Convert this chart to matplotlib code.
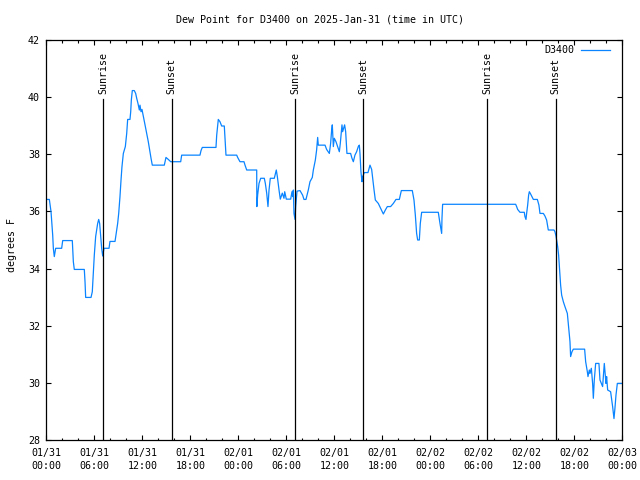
import numpy as np
import pandas as pd
import matplotlib
matplotlib.use("Agg")
import matplotlib.pyplot as plt
import matplotlib.dates as mdates

# hours after 2025-01-31 00:00 UTC and dew point (F)
hours = [
    0.0, 0.38, 0.46, 0.59, 0.8, 0.88, 1.0, 1.17, 1.92, 2.05, 3.25, 3.38, 3.5,
    4.75, 4.84, 4.92, 5.59, 5.75, 5.88, 6.0, 6.17, 6.3, 6.42, 6.55, 6.67, 6.8,
    6.92, 7.05, 7.21, 7.84, 7.96, 8.59, 8.71, 8.92, 9.05, 9.21, 9.34, 9.46,
    9.63, 9.88, 10.05, 10.17, 10.46, 10.55, 10.63, 10.75, 11.0, 11.17, 11.3,
    11.46, 11.63, 11.71, 11.84, 11.96, 12.13, 12.34, 12.55, 12.75, 12.92,
    13.09, 13.25, 14.75, 14.96, 15.25, 15.55, 16.8, 16.92, 19.21, 19.34, 19.5,
    21.21, 21.3, 21.5, 21.71, 21.92, 22.25, 22.46, 23.8, 23.92, 24.21, 24.71,
    24.84, 25.05, 26.3, 26.32, 26.42, 26.59, 26.8, 27.25, 27.38, 27.55, 27.71,
    27.84, 28.0, 28.5, 28.59, 28.75, 28.88, 29.09, 29.25, 29.5, 29.71, 29.8,
    29.88, 30.0, 30.55, 30.71, 30.8, 30.88, 30.96, 31.09, 31.17, 31.34, 31.71,
    32.04, 32.21, 32.46, 32.75, 32.96, 33.25, 33.38, 33.63, 33.79, 33.92, 34.0,
    34.84, 35.04, 35.38, 35.54, 35.67, 35.75, 35.88, 36.0, 36.21, 36.42, 36.63,
    36.75, 36.88, 36.96, 37.04, 37.29, 37.42, 37.58, 38.04, 38.21, 38.38,
    38.58, 38.79, 39.0, 39.13, 39.21, 39.33, 39.46, 39.5, 39.75, 40.21, 40.46,
    40.67, 40.96, 41.13, 41.5, 41.79, 42.13, 42.38, 42.63, 43.04, 43.38, 43.71,
    44.13, 44.38, 45.75, 45.96, 46.13, 46.29, 46.42, 46.63, 46.75, 46.92, 49.0,
    49.21, 49.42, 49.46, 49.54, 58.67, 58.79, 58.92, 59.21, 59.75, 59.83,
    59.96, 60.04, 60.17, 60.29, 60.38, 60.54, 60.88, 61.38, 61.58, 61.71,
    62.13, 62.33, 62.54, 62.75, 63.46, 63.58, 63.71, 63.92, 64.04, 64.13,
    64.29, 64.42, 64.63, 64.83, 65.13, 65.25, 65.46, 65.54, 65.71, 65.88,
    67.29, 67.42, 67.63, 67.71, 67.88, 67.96, 68.13, 68.29, 68.38, 68.5, 68.67,
    69.08, 69.21, 69.54, 69.75, 69.96, 70.04, 70.17, 70.54, 70.79, 70.96,
    71.08, 71.21, 71.38, 72.0,
]
dewpoint = [
    36.42, 36.42, 36.26, 35.99, 35.17, 34.71, 34.42, 34.71, 34.71, 34.98,
    34.98, 34.24, 33.97, 33.97, 33.54, 32.99, 32.99, 33.19, 33.83, 34.47,
    35.12, 35.35, 35.58, 35.72, 35.58, 35.12, 34.71, 34.44, 34.71, 34.71,
    34.95, 34.95, 35.17, 35.58, 35.93, 36.52, 37.1, 37.57, 38.03, 38.27,
    38.73, 39.22, 39.22, 39.49, 39.9, 40.23, 40.23, 40.13, 39.96, 39.78,
    39.55, 39.72, 39.49, 39.57, 39.32, 39.03, 38.73, 38.44, 38.15, 37.86,
    37.62, 37.62, 37.89, 37.82, 37.74, 37.74, 37.97, 37.97, 38.13, 38.24,
    38.24, 38.67, 39.22, 39.14, 38.99, 38.99, 37.97, 37.97, 37.89, 37.74,
    37.74, 37.62, 37.45, 37.45, 36.17, 36.58, 36.98, 37.16, 37.16, 36.98,
    36.64, 36.17, 36.75, 37.16, 37.16, 37.27, 37.45, 37.22, 36.75, 36.43,
    36.64, 36.46, 36.69, 36.58, 36.43, 36.43, 36.69, 36.52, 36.75, 35.93,
    35.72, 36.17, 36.71, 36.73, 36.57, 36.42, 36.42, 36.75, 37.04, 37.19,
    37.45, 37.8, 38.15, 38.59, 38.32, 38.32, 38.17, 38.03, 38.38, 38.85,
    39.03, 38.27, 38.56, 38.44, 38.27, 38.09, 38.38, 38.79, 39.03, 38.79,
    39.03, 38.79, 38.03, 38.03, 37.86, 37.74, 37.97, 38.09, 38.27, 38.32,
    38.03, 37.39, 37.04, 37.19, 37.36, 37.36, 37.62, 37.47, 36.77, 36.4,
    36.28, 36.11, 35.91, 36.05, 36.17, 36.17, 36.28, 36.42, 36.42, 36.73,
    36.73, 36.4, 35.87, 35.23, 35.0, 35.0, 35.58, 35.97, 35.97, 35.58,
    35.23, 35.76, 36.25, 36.25, 36.17, 36.07, 35.97, 35.97, 35.82, 35.72,
    35.93, 36.22, 36.57, 36.69, 36.61, 36.42, 36.42, 36.22, 35.93, 35.93,
    35.84, 35.7, 35.35, 35.35, 35.29, 35.14, 34.77, 34.47, 34.07, 33.42,
    33.07, 32.84, 32.67, 32.43, 32.08, 31.44, 30.92, 31.09, 31.18, 31.18,
    30.74, 30.39, 30.22, 30.45, 30.33, 30.51, 29.98, 29.46, 30.1, 30.68,
    30.68, 30.1, 29.87, 30.68, 29.98, 30.22, 29.75, 29.69, 29.17, 28.75,
    29.11, 29.57, 29.98, 29.98,
]

sunrise_hours = [7.125, 31.125, 55.08]
sunset_hours = [15.65, 39.63, 63.65]

start = pd.Timestamp("2025-01-31 00:00")
times = start + pd.to_timedelta(hours, unit="h")

plt.rcParams["font.family"] = "DejaVu Sans Mono"
plt.rcParams["font.size"] = 7.2

fig = plt.figure(figsize=(6.4, 4.8), dpi=100)
ax = fig.add_axes([46.3 / 640, 1 - 440 / 480, 576 / 640, 400 / 480])

ax.plot(times, dewpoint, color="#0a84ff", linewidth=0.9, label="D3400")

# sun event markers, labels sit just above the top of each line
for h in sunrise_hours + sunset_hours:
    t = start + pd.Timedelta(hours=h)
    ax.axvline(t, ymin=0, ymax=0.852, color="black", linewidth=0.9)
for h in sunrise_hours:
    ax.text(start + pd.Timedelta(hours=h), 40.12, "Sunrise", rotation=90,
            ha="center", va="bottom")
for h in sunset_hours:
    ax.text(start + pd.Timedelta(hours=h), 40.12, "Sunset", rotation=90,
            ha="center", va="bottom")

ax.set_xlim(start, start + pd.Timedelta(hours=72))
ax.set_ylim(28, 42)
ax.set_yticks(np.arange(28, 43, 2))

ax.xaxis.set_major_locator(mdates.HourLocator(byhour=[0, 6, 12, 18]))
ax.xaxis.set_minor_locator(mdates.HourLocator(interval=2))
ax.xaxis.set_major_formatter(mdates.DateFormatter("%m/%d\n%H:%M"))

ax.tick_params(which="both", direction="in", top=True, right=True,
               width=0.8, color="black")
ax.tick_params(which="major", length=3.6)
ax.tick_params(which="minor", length=1.8)
ax.tick_params(axis="x", pad=6)
ax.tick_params(axis="y", pad=4.5)
for tick in ax.get_xticklabels():
    tick.set_linespacing(1.35)

for spine in ax.spines.values():
    spine.set_linewidth(0.9)

ax.legend(loc="center right", bbox_to_anchor=(0.9787, 0.974), frameon=False,
          markerfirst=False, handlelength=2.9, handletextpad=0.7,
          borderpad=0, borderaxespad=0)

fig.text(0.5, 1 - 19 / 480, "Dew Point for D3400 on 2025-Jan-31 (time in UTC)",
         ha="center", va="center")
fig.text(11.7 / 640, 1 - 245 / 480, "degrees F", rotation=90,
         ha="center", va="center")

fig.savefig("out.png", dpi=100)
